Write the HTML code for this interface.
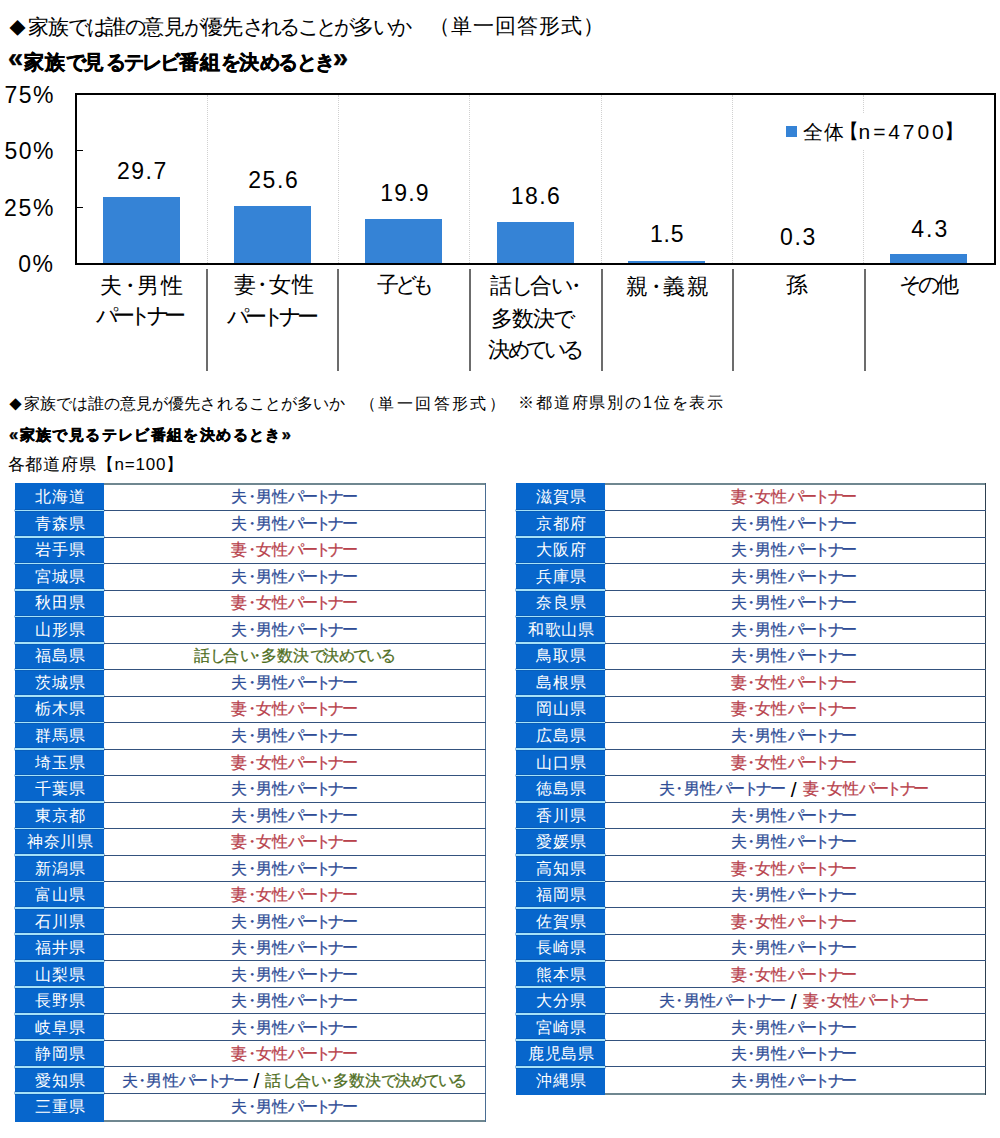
<!DOCTYPE html><html lang="ja"><head><meta charset="utf-8"><style>
*{margin:0;padding:0;box-sizing:border-box}
html,body{width:1000px;height:1138px;background:#fff;overflow:hidden}
body{position:relative;font-family:"Liberation Sans",sans-serif;color:#000;font-kerning:none}
.a{position:absolute;white-space:nowrap;line-height:1.2}
.k{letter-spacing:calc(var(--ls) + var(--kls))}
.d{margin:0 -0.25em}
.dm{font-size:0.8em;margin-right:0.15em;position:relative;top:0.05em}
.gm{font-size:1.35em;line-height:0;position:relative;top:-0.05em}
.gs{font-size:1.1em}
.bd{font-weight:bold;-webkit-text-stroke:0.45px #000}
.plot{position:absolute;left:75px;top:93px;width:921px;height:172px;border:2px solid #000;border-bottom:none}
.axis{position:absolute;left:75px;top:263px;width:921px;height:2px;background:#000}
.grid{position:absolute;top:95px;height:168px;width:0;border-left:1px dotted #d0d0d0}
.div{position:absolute;top:268.5px;height:102.5px;width:2px;background:#6c6c6c}
.bar{position:absolute;width:77px;background:#3583d6}
.tick{position:absolute;left:77px;width:6px;height:1px;background:#000}
.tbl{position:absolute;width:471px;font-size:16px}
.bcol{position:absolute;left:0;top:0;bottom:0;width:89px;background:#0766cc}
.tb{position:absolute;left:89px;right:0;top:0;height:2px;background:#6f8790}
.bb{position:absolute;left:89px;right:0;bottom:0;height:2px;background:#6f8790}
.rb{position:absolute;right:0;top:0;bottom:0;width:1.5px;background:#3e5f8a}
.pn{position:absolute;width:89px;height:26px;line-height:26px;text-align:center;color:#fff;white-space:nowrap}
.pv{position:absolute;width:380px;height:26px;line-height:26px;text-align:center;white-space:nowrap;-webkit-text-stroke:0.25px currentColor}
.pv .k{letter-spacing:-0.16em}
.sepb{position:absolute;left:0;width:89px;height:1.6px;background:#a6e2f8;box-shadow:0 0 0.6px 0.4px #0a54a8}
.sepw{position:absolute;left:89px;right:0;height:1px;background:#34527e}
.m{color:#2f4d96} .f{color:#b8424c} .t{color:#4f6e1e} .sl{-webkit-text-stroke:0;color:#000;margin:0 6px 0 7.5px;font-size:21px;line-height:0;position:relative;top:2.5px}
</style></head><body>
<div class="plot"></div>
<div class="grid" style="left:207px"></div>
<div class="grid" style="left:338px"></div>
<div class="grid" style="left:469px"></div>
<div class="grid" style="left:601px"></div>
<div class="grid" style="left:732px"></div>
<div class="grid" style="left:863px"></div>
<div class="tick" style="top:150px"></div><div class="tick" style="top:207px"></div>
<div class="bar" style="left:102.9px;top:196.8px;height:67.2px"></div>
<div class="bar" style="left:234.1px;top:206.1px;height:57.9px"></div>
<div class="bar" style="left:365.3px;top:219.0px;height:45.0px"></div>
<div class="bar" style="left:496.5px;top:222.0px;height:42.0px"></div>
<div class="bar" style="left:627.7px;top:260.8px;height:3.2px"></div>
<div class="bar" style="left:758.9px;top:263.5px;height:0.5px"></div>
<div class="bar" style="left:890.1px;top:254.4px;height:9.6px"></div>
<div class="axis"></div>
<div class="div" style="left:206px"></div>
<div class="div" style="left:337px"></div>
<div class="div" style="left:469px"></div>
<div class="div" style="left:601px"></div>
<div class="div" style="left:732px"></div>
<div class="div" style="left:864px"></div>
<div class="a lgbg" style="left:780px;top:113px;width:180px;height:35.5px;background:#fff"></div>
<div class="a lgsq" style="left:785.5px;top:125.5px;width:11.5px;height:11.5px;background:#3583d6"></div>
<div class="a tx" id="t1a" style="left:9.00px;top:13.50px;font-size:21px;--ls:-0.756px;--kls:-0.140em;letter-spacing:var(--ls)"><span class="dm">◆</span>家族<span class="k">では</span>誰<span class="k">の</span>意見<span class="k">が</span>優先<span class="k">されることが</span>多<span class="k">いか</span></div>
<div class="a tx" id="t1b" style="left:428.90px;top:13.40px;font-size:21px;--ls:1.070px;--kls:-0.140em;letter-spacing:var(--ls)">（単一回答形式）</div>
<div class="a tx bd" id="t2" style="left:8.00px;top:49.80px;font-size:20px;--ls:1.059px;--kls:-0.140em;letter-spacing:var(--ls)"><span class="gm">«</span>家族<span class="k">で</span>見<span class="k">るテレビ</span>番組<span class="k">を</span>決<span class="k">めるとき</span><span class="gm">»</span></div>
<div class="a tx" id="ax75" style="left:4.60px;top:81.50px;font-size:23px;--ls:1.400px;--kls:-0.140em;letter-spacing:var(--ls)">75%</div>
<div class="a tx" id="ax50" style="left:4.60px;top:138.00px;font-size:23px;--ls:1.400px;--kls:-0.140em;letter-spacing:var(--ls)">50%</div>
<div class="a tx" id="ax25" style="left:4.00px;top:194.90px;font-size:23px;--ls:1.760px;--kls:-0.140em;letter-spacing:var(--ls)">25%</div>
<div class="a tx" id="ax0" style="left:18.20px;top:251.10px;font-size:23px;--ls:1.580px;--kls:-0.140em;letter-spacing:var(--ls)">0%</div>
<div class="a tx" id="v0" style="left:117.00px;top:157.55px;font-size:23px;--ls:1.520px;--kls:-0.140em;letter-spacing:var(--ls)">29.7</div>
<div class="a tx" id="v1" style="left:248.20px;top:167.30px;font-size:23px;--ls:1.580px;--kls:-0.140em;letter-spacing:var(--ls)">25.6</div>
<div class="a tx" id="v2" style="left:380.20px;top:180.30px;font-size:23px;--ls:1.190px;--kls:-0.140em;letter-spacing:var(--ls)">19.9</div>
<div class="a tx" id="v3" style="left:510.80px;top:183.45px;font-size:23px;--ls:1.400px;--kls:-0.140em;letter-spacing:var(--ls)">18.6</div>
<div class="a tx" id="v4" style="left:650.00px;top:221.25px;font-size:23px;--ls:0.815px;--kls:-0.140em;letter-spacing:var(--ls)">1.5</div>
<div class="a tx" id="v5" style="left:780.00px;top:224.15px;font-size:23px;--ls:1.670px;--kls:-0.140em;letter-spacing:var(--ls)">0.3</div>
<div class="a tx" id="v6" style="left:911.20px;top:215.95px;font-size:23px;--ls:2.030px;--kls:-0.140em;letter-spacing:var(--ls)">4.3</div>
<div class="a tx" id="c1a" style="left:100.20px;top:273.10px;font-size:22px;--ls:1.800px;--kls:-0.140em;letter-spacing:var(--ls)">夫<span class="d">・</span>男性</div>
<div class="a tx" id="c1b" style="left:95.60px;top:303.20px;font-size:22px;--ls:-2.610px;--kls:-0.140em;letter-spacing:var(--ls)"><span class="k">パートナー</span></div>
<div class="a tx" id="c2a" style="left:234.00px;top:272.20px;font-size:22px;--ls:0.945px;--kls:-0.140em;letter-spacing:var(--ls)">妻<span class="d">・</span>女性</div>
<div class="a tx" id="c2b" style="left:227.40px;top:304.10px;font-size:22px;--ls:-2.340px;--kls:-0.140em;letter-spacing:var(--ls)"><span class="k">パートナー</span></div>
<div class="a tx" id="c3" style="left:376.80px;top:271.75px;font-size:22px;--ls:-3.330px;--kls:-0.140em;letter-spacing:var(--ls)">子<span class="k">ども</span></div>
<div class="a tx" id="c4a" style="left:490.00px;top:273.20px;font-size:22px;--ls:-0.900px;--kls:-0.140em;letter-spacing:var(--ls)">話<span class="k">し</span>合<span class="k">い</span><span class="d">・</span></div>
<div class="a tx" id="c4b" style="left:491.00px;top:306.10px;font-size:22px;--ls:-1.200px;--kls:-0.140em;letter-spacing:var(--ls)">多数決<span class="k">で</span></div>
<div class="a tx" id="c4c" style="left:488.00px;top:336.95px;font-size:22px;--ls:-2.025px;--kls:-0.140em;letter-spacing:var(--ls)">決<span class="k">めている</span></div>
<div class="a tx" id="c5" style="left:626.40px;top:273.50px;font-size:22px;--ls:1.740px;--kls:-0.140em;letter-spacing:var(--ls)">親<span class="d">・</span>義親</div>
<div class="a tx" id="c6" style="left:786.20px;top:272.20px;font-size:22px;--ls:0.000px;--kls:-0.140em;letter-spacing:var(--ls)">孫</div>
<div class="a tx" id="c7" style="left:899.40px;top:271.70px;font-size:22px;--ls:-0.900px;--kls:-0.140em;letter-spacing:var(--ls)"><span class="k">その</span>他</div>
<div class="a tx" id="lg1" style="left:803.00px;top:119.50px;font-size:20px;--ls:0.900px;--kls:-0.140em;letter-spacing:var(--ls)">全体</div>
<div class="a tx" id="lg2" style="left:838.60px;top:119.40px;font-size:20px;--ls:0.000px;--kls:-0.140em;letter-spacing:var(--ls)">【</div>
<div class="a tx" id="lg3" style="left:858.60px;top:118.50px;font-size:21px;--ls:2.882px;--kls:-0.140em;letter-spacing:var(--ls)">n=4700</div>
<div class="a tx" id="lg4" style="left:944.40px;top:119.40px;font-size:20px;--ls:0.000px;--kls:-0.140em;letter-spacing:var(--ls)">】</div>
<div class="a tx" id="s1a" style="left:9.00px;top:393.75px;font-size:16px;--ls:0.045px;--kls:0.000em;letter-spacing:var(--ls)"><span class="dm">◆</span>家族<span class="k">では</span>誰<span class="k">の</span>意見<span class="k">が</span>優先<span class="k">されることが</span>多<span class="k">いか</span></div>
<div class="a tx" id="s1b" style="left:360.00px;top:393.88px;font-size:16px;--ls:2.378px;--kls:-0.140em;letter-spacing:var(--ls)">（単一回答形式）</div>
<div class="a tx" id="s1c" style="left:518.00px;top:393.27px;font-size:16px;--ls:1.847px;--kls:0.000em;letter-spacing:var(--ls)">※都道府県別<span class="k">の</span>1位<span class="k">を</span>表示</div>
<div class="a tx bd" id="s2" style="left:9.00px;top:424.75px;font-size:15px;--ls:1.388px;--kls:0.000em;letter-spacing:var(--ls)"><span class="gs">«</span>家族<span class="k">で</span>見<span class="k">るテレビ</span>番組<span class="k">を</span>決<span class="k">めるとき</span><span class="gs">»</span></div>
<div class="a tx" id="s3" style="left:7.50px;top:455.00px;font-size:17px;--ls:0.819px;--kls:0.000em;letter-spacing:var(--ls)">各都道府県【n=100】</div>
<div class="tbl" style="left:15px;top:483px;height:638.76px;width:471px">
<div class="bcol"></div><div class="tb"></div><div class="bb"></div><div class="rb" style="background:#4a6d92"></div>
<div class="pn" id="Ln0" style="top:1.25px;left:1.0px;letter-spacing:0.9px">北海道</div><div class="pv" id="Lv0" style="top:1.25px;left:88.4px;letter-spacing:0.15px"><span class="m">夫<span class="d">・</span>男性<span class="k">パートナー</span></span></div>
<div class="pn" id="Ln1" style="top:27.78px;left:1.0px;letter-spacing:0.9px">青森県</div><div class="pv" id="Lv1" style="top:27.78px;left:88.4px;letter-spacing:0.15px"><span class="m">夫<span class="d">・</span>男性<span class="k">パートナー</span></span></div>
<div class="sepb" style="top:26.64px"></div><div class="sepw" style="top:27px"></div>
<div class="pn" id="Ln2" style="top:54.31px;left:1.0px;letter-spacing:0.9px">岩手県</div><div class="pv" id="Lv2" style="top:54.31px;left:88.4px;letter-spacing:0.15px"><span class="f">妻<span class="d">・</span>女性<span class="k">パートナー</span></span></div>
<div class="sepb" style="top:53.13px"></div><div class="sepw" style="top:54px"></div>
<div class="pn" id="Ln3" style="top:80.84px;left:1.0px;letter-spacing:0.9px">宮城県</div><div class="pv" id="Lv3" style="top:80.84px;left:88.4px;letter-spacing:0.15px"><span class="m">夫<span class="d">・</span>男性<span class="k">パートナー</span></span></div>
<div class="sepb" style="top:79.62px"></div><div class="sepw" style="top:80px"></div>
<div class="pn" id="Ln4" style="top:107.37px;left:1.0px;letter-spacing:0.9px">秋田県</div><div class="pv" id="Lv4" style="top:107.37px;left:88.4px;letter-spacing:0.15px"><span class="f">妻<span class="d">・</span>女性<span class="k">パートナー</span></span></div>
<div class="sepb" style="top:106.11px"></div><div class="sepw" style="top:107px"></div>
<div class="pn" id="Ln5" style="top:133.90px;left:1.0px;letter-spacing:0.9px">山形県</div><div class="pv" id="Lv5" style="top:133.90px;left:88.4px;letter-spacing:0.15px"><span class="m">夫<span class="d">・</span>男性<span class="k">パートナー</span></span></div>
<div class="sepb" style="top:132.60px"></div><div class="sepw" style="top:133px"></div>
<div class="pn" id="Ln6" style="top:160.43px;left:1.0px;letter-spacing:0.9px">福島県</div><div class="pv" id="Lv6" style="top:160.43px;left:88.4px;letter-spacing:0.15px"><span class="t">話<span class="k">し</span>合<span class="k">い</span><span class="d">・</span>多数決<span class="k">で</span>決<span class="k">めている</span></span></div>
<div class="sepb" style="top:159.09px"></div><div class="sepw" style="top:160px"></div>
<div class="pn" id="Ln7" style="top:186.96px;left:1.0px;letter-spacing:0.9px">茨城県</div><div class="pv" id="Lv7" style="top:186.96px;left:88.4px;letter-spacing:0.15px"><span class="m">夫<span class="d">・</span>男性<span class="k">パートナー</span></span></div>
<div class="sepb" style="top:185.58px"></div><div class="sepw" style="top:186px"></div>
<div class="pn" id="Ln8" style="top:213.49px;left:1.0px;letter-spacing:0.9px">栃木県</div><div class="pv" id="Lv8" style="top:213.49px;left:88.4px;letter-spacing:0.15px"><span class="f">妻<span class="d">・</span>女性<span class="k">パートナー</span></span></div>
<div class="sepb" style="top:212.07px"></div><div class="sepw" style="top:213px"></div>
<div class="pn" id="Ln9" style="top:240.02px;left:1.0px;letter-spacing:0.9px">群馬県</div><div class="pv" id="Lv9" style="top:240.02px;left:88.4px;letter-spacing:0.15px"><span class="m">夫<span class="d">・</span>男性<span class="k">パートナー</span></span></div>
<div class="sepb" style="top:238.56px"></div><div class="sepw" style="top:239px"></div>
<div class="pn" id="Ln10" style="top:266.55px;left:1.0px;letter-spacing:0.9px">埼玉県</div><div class="pv" id="Lv10" style="top:266.55px;left:88.4px;letter-spacing:0.15px"><span class="f">妻<span class="d">・</span>女性<span class="k">パートナー</span></span></div>
<div class="sepb" style="top:265.05px"></div><div class="sepw" style="top:266px"></div>
<div class="pn" id="Ln11" style="top:293.08px;left:1.0px;letter-spacing:0.9px">千葉県</div><div class="pv" id="Lv11" style="top:293.08px;left:88.4px;letter-spacing:0.15px"><span class="m">夫<span class="d">・</span>男性<span class="k">パートナー</span></span></div>
<div class="sepb" style="top:291.54px"></div><div class="sepw" style="top:292px"></div>
<div class="pn" id="Ln12" style="top:319.61px;left:1.0px;letter-spacing:0.9px">東京都</div><div class="pv" id="Lv12" style="top:319.61px;left:88.4px;letter-spacing:0.15px"><span class="m">夫<span class="d">・</span>男性<span class="k">パートナー</span></span></div>
<div class="sepb" style="top:318.03px"></div><div class="sepw" style="top:319px"></div>
<div class="pn" id="Ln13" style="top:346.14px;left:1.0px;letter-spacing:0.9px">神奈川県</div><div class="pv" id="Lv13" style="top:346.14px;left:88.4px;letter-spacing:0.15px"><span class="f">妻<span class="d">・</span>女性<span class="k">パートナー</span></span></div>
<div class="sepb" style="top:344.52px"></div><div class="sepw" style="top:345px"></div>
<div class="pn" id="Ln14" style="top:372.67px;left:1.0px;letter-spacing:0.9px">新潟県</div><div class="pv" id="Lv14" style="top:372.67px;left:88.4px;letter-spacing:0.15px"><span class="m">夫<span class="d">・</span>男性<span class="k">パートナー</span></span></div>
<div class="sepb" style="top:371.01px"></div><div class="sepw" style="top:372px"></div>
<div class="pn" id="Ln15" style="top:399.20px;left:1.0px;letter-spacing:0.9px">富山県</div><div class="pv" id="Lv15" style="top:399.20px;left:88.4px;letter-spacing:0.15px"><span class="f">妻<span class="d">・</span>女性<span class="k">パートナー</span></span></div>
<div class="sepb" style="top:397.50px"></div><div class="sepw" style="top:398px"></div>
<div class="pn" id="Ln16" style="top:425.73px;left:1.0px;letter-spacing:0.9px">石川県</div><div class="pv" id="Lv16" style="top:425.73px;left:88.4px;letter-spacing:0.15px"><span class="m">夫<span class="d">・</span>男性<span class="k">パートナー</span></span></div>
<div class="sepb" style="top:423.99px"></div><div class="sepw" style="top:424px"></div>
<div class="pn" id="Ln17" style="top:452.26px;left:1.0px;letter-spacing:0.9px">福井県</div><div class="pv" id="Lv17" style="top:452.26px;left:88.4px;letter-spacing:0.15px"><span class="m">夫<span class="d">・</span>男性<span class="k">パートナー</span></span></div>
<div class="sepb" style="top:450.48px"></div><div class="sepw" style="top:451px"></div>
<div class="pn" id="Ln18" style="top:478.79px;left:1.0px;letter-spacing:0.9px">山梨県</div><div class="pv" id="Lv18" style="top:478.79px;left:88.4px;letter-spacing:0.15px"><span class="m">夫<span class="d">・</span>男性<span class="k">パートナー</span></span></div>
<div class="sepb" style="top:476.97px"></div><div class="sepw" style="top:477px"></div>
<div class="pn" id="Ln19" style="top:505.32px;left:1.0px;letter-spacing:0.9px">長野県</div><div class="pv" id="Lv19" style="top:505.32px;left:88.4px;letter-spacing:0.15px"><span class="m">夫<span class="d">・</span>男性<span class="k">パートナー</span></span></div>
<div class="sepb" style="top:503.46px"></div><div class="sepw" style="top:504px"></div>
<div class="pn" id="Ln20" style="top:531.85px;left:1.0px;letter-spacing:0.9px">岐阜県</div><div class="pv" id="Lv20" style="top:531.85px;left:88.4px;letter-spacing:0.15px"><span class="m">夫<span class="d">・</span>男性<span class="k">パートナー</span></span></div>
<div class="sepb" style="top:529.95px"></div><div class="sepw" style="top:530px"></div>
<div class="pn" id="Ln21" style="top:558.38px;left:1.0px;letter-spacing:0.9px">静岡県</div><div class="pv" id="Lv21" style="top:558.38px;left:88.4px;letter-spacing:0.15px"><span class="f">妻<span class="d">・</span>女性<span class="k">パートナー</span></span></div>
<div class="sepb" style="top:556.44px"></div><div class="sepw" style="top:557px"></div>
<div class="pn" id="Ln22" style="top:584.91px;left:1.0px;letter-spacing:0.9px">愛知県</div><div class="pv" id="Lv22" style="top:584.91px;left:88.4px;letter-spacing:0.15px"><span class="m">夫<span class="d">・</span>男性<span class="k">パートナー</span></span><span class="sl">/</span><span class="t">話<span class="k">し</span>合<span class="k">い</span><span class="d">・</span>多数決<span class="k">で</span>決<span class="k">めている</span></span></div>
<div class="sepb" style="top:582.93px"></div><div class="sepw" style="top:583px"></div>
<div class="pn" id="Ln23" style="top:611.44px;left:1.0px;letter-spacing:0.9px">三重県</div><div class="pv" id="Lv23" style="top:611.44px;left:88.4px;letter-spacing:0.15px"><span class="m">夫<span class="d">・</span>男性<span class="k">パートナー</span></span></div>
<div class="sepb" style="top:609.42px"></div><div class="sepw" style="top:610px"></div>
</div>
<div class="tbl" style="left:516px;top:483px;height:612.27px;width:470.3px">
<div class="bcol"></div><div class="tb"></div><div class="bb"></div><div class="rb" style="background:#2e4050"></div>
<div class="pn" id="Rn0" style="top:1.25px;left:1.0px;letter-spacing:0.9px">滋賀県</div><div class="pv" id="Rv0" style="top:1.25px;left:86.9px;letter-spacing:0.15px"><span class="f">妻<span class="d">・</span>女性<span class="k">パートナー</span></span></div>
<div class="pn" id="Rn1" style="top:27.78px;left:1.0px;letter-spacing:0.9px">京都府</div><div class="pv" id="Rv1" style="top:27.78px;left:86.9px;letter-spacing:0.15px"><span class="m">夫<span class="d">・</span>男性<span class="k">パートナー</span></span></div>
<div class="sepb" style="top:26.64px"></div><div class="sepw" style="top:27px"></div>
<div class="pn" id="Rn2" style="top:54.31px;left:1.0px;letter-spacing:0.9px">大阪府</div><div class="pv" id="Rv2" style="top:54.31px;left:86.9px;letter-spacing:0.15px"><span class="m">夫<span class="d">・</span>男性<span class="k">パートナー</span></span></div>
<div class="sepb" style="top:53.13px"></div><div class="sepw" style="top:54px"></div>
<div class="pn" id="Rn3" style="top:80.84px;left:1.0px;letter-spacing:0.9px">兵庫県</div><div class="pv" id="Rv3" style="top:80.84px;left:86.9px;letter-spacing:0.15px"><span class="m">夫<span class="d">・</span>男性<span class="k">パートナー</span></span></div>
<div class="sepb" style="top:79.62px"></div><div class="sepw" style="top:80px"></div>
<div class="pn" id="Rn4" style="top:107.37px;left:1.0px;letter-spacing:0.9px">奈良県</div><div class="pv" id="Rv4" style="top:107.37px;left:86.9px;letter-spacing:0.15px"><span class="m">夫<span class="d">・</span>男性<span class="k">パートナー</span></span></div>
<div class="sepb" style="top:106.11px"></div><div class="sepw" style="top:107px"></div>
<div class="pn" id="Rn5" style="top:133.90px;left:1.0px;letter-spacing:0.9px">和歌山県</div><div class="pv" id="Rv5" style="top:133.90px;left:86.9px;letter-spacing:0.15px"><span class="m">夫<span class="d">・</span>男性<span class="k">パートナー</span></span></div>
<div class="sepb" style="top:132.60px"></div><div class="sepw" style="top:133px"></div>
<div class="pn" id="Rn6" style="top:160.43px;left:1.0px;letter-spacing:0.9px">鳥取県</div><div class="pv" id="Rv6" style="top:160.43px;left:86.9px;letter-spacing:0.15px"><span class="m">夫<span class="d">・</span>男性<span class="k">パートナー</span></span></div>
<div class="sepb" style="top:159.09px"></div><div class="sepw" style="top:160px"></div>
<div class="pn" id="Rn7" style="top:186.96px;left:1.0px;letter-spacing:0.9px">島根県</div><div class="pv" id="Rv7" style="top:186.96px;left:86.9px;letter-spacing:0.15px"><span class="f">妻<span class="d">・</span>女性<span class="k">パートナー</span></span></div>
<div class="sepb" style="top:185.58px"></div><div class="sepw" style="top:186px"></div>
<div class="pn" id="Rn8" style="top:213.49px;left:1.0px;letter-spacing:0.9px">岡山県</div><div class="pv" id="Rv8" style="top:213.49px;left:86.9px;letter-spacing:0.15px"><span class="f">妻<span class="d">・</span>女性<span class="k">パートナー</span></span></div>
<div class="sepb" style="top:212.07px"></div><div class="sepw" style="top:213px"></div>
<div class="pn" id="Rn9" style="top:240.02px;left:1.0px;letter-spacing:0.9px">広島県</div><div class="pv" id="Rv9" style="top:240.02px;left:86.9px;letter-spacing:0.15px"><span class="m">夫<span class="d">・</span>男性<span class="k">パートナー</span></span></div>
<div class="sepb" style="top:238.56px"></div><div class="sepw" style="top:239px"></div>
<div class="pn" id="Rn10" style="top:266.55px;left:1.0px;letter-spacing:0.9px">山口県</div><div class="pv" id="Rv10" style="top:266.55px;left:86.9px;letter-spacing:0.15px"><span class="f">妻<span class="d">・</span>女性<span class="k">パートナー</span></span></div>
<div class="sepb" style="top:265.05px"></div><div class="sepw" style="top:266px"></div>
<div class="pn" id="Rn11" style="top:293.08px;left:1.0px;letter-spacing:0.9px">徳島県</div><div class="pv" id="Rv11" style="top:293.08px;left:86.9px;letter-spacing:0.15px"><span class="m">夫<span class="d">・</span>男性<span class="k">パートナー</span></span><span class="sl">/</span><span class="f">妻<span class="d">・</span>女性<span class="k">パートナー</span></span></div>
<div class="sepb" style="top:291.54px"></div><div class="sepw" style="top:292px"></div>
<div class="pn" id="Rn12" style="top:319.61px;left:1.0px;letter-spacing:0.9px">香川県</div><div class="pv" id="Rv12" style="top:319.61px;left:86.9px;letter-spacing:0.15px"><span class="m">夫<span class="d">・</span>男性<span class="k">パートナー</span></span></div>
<div class="sepb" style="top:318.03px"></div><div class="sepw" style="top:319px"></div>
<div class="pn" id="Rn13" style="top:346.14px;left:1.0px;letter-spacing:0.9px">愛媛県</div><div class="pv" id="Rv13" style="top:346.14px;left:86.9px;letter-spacing:0.15px"><span class="m">夫<span class="d">・</span>男性<span class="k">パートナー</span></span></div>
<div class="sepb" style="top:344.52px"></div><div class="sepw" style="top:345px"></div>
<div class="pn" id="Rn14" style="top:372.67px;left:1.0px;letter-spacing:0.9px">高知県</div><div class="pv" id="Rv14" style="top:372.67px;left:86.9px;letter-spacing:0.15px"><span class="f">妻<span class="d">・</span>女性<span class="k">パートナー</span></span></div>
<div class="sepb" style="top:371.01px"></div><div class="sepw" style="top:372px"></div>
<div class="pn" id="Rn15" style="top:399.20px;left:1.0px;letter-spacing:0.9px">福岡県</div><div class="pv" id="Rv15" style="top:399.20px;left:86.9px;letter-spacing:0.15px"><span class="m">夫<span class="d">・</span>男性<span class="k">パートナー</span></span></div>
<div class="sepb" style="top:397.50px"></div><div class="sepw" style="top:398px"></div>
<div class="pn" id="Rn16" style="top:425.73px;left:1.0px;letter-spacing:0.9px">佐賀県</div><div class="pv" id="Rv16" style="top:425.73px;left:86.9px;letter-spacing:0.15px"><span class="f">妻<span class="d">・</span>女性<span class="k">パートナー</span></span></div>
<div class="sepb" style="top:423.99px"></div><div class="sepw" style="top:424px"></div>
<div class="pn" id="Rn17" style="top:452.26px;left:1.0px;letter-spacing:0.9px">長崎県</div><div class="pv" id="Rv17" style="top:452.26px;left:86.9px;letter-spacing:0.15px"><span class="m">夫<span class="d">・</span>男性<span class="k">パートナー</span></span></div>
<div class="sepb" style="top:450.48px"></div><div class="sepw" style="top:451px"></div>
<div class="pn" id="Rn18" style="top:478.79px;left:1.0px;letter-spacing:0.9px">熊本県</div><div class="pv" id="Rv18" style="top:478.79px;left:86.9px;letter-spacing:0.15px"><span class="f">妻<span class="d">・</span>女性<span class="k">パートナー</span></span></div>
<div class="sepb" style="top:476.97px"></div><div class="sepw" style="top:477px"></div>
<div class="pn" id="Rn19" style="top:505.32px;left:1.0px;letter-spacing:0.9px">大分県</div><div class="pv" id="Rv19" style="top:505.32px;left:86.9px;letter-spacing:0.15px"><span class="m">夫<span class="d">・</span>男性<span class="k">パートナー</span></span><span class="sl">/</span><span class="f">妻<span class="d">・</span>女性<span class="k">パートナー</span></span></div>
<div class="sepb" style="top:503.46px"></div><div class="sepw" style="top:504px"></div>
<div class="pn" id="Rn20" style="top:531.85px;left:1.0px;letter-spacing:0.9px">宮崎県</div><div class="pv" id="Rv20" style="top:531.85px;left:86.9px;letter-spacing:0.15px"><span class="m">夫<span class="d">・</span>男性<span class="k">パートナー</span></span></div>
<div class="sepb" style="top:529.95px"></div><div class="sepw" style="top:530px"></div>
<div class="pn" id="Rn21" style="top:558.38px;left:1.0px;letter-spacing:0.9px">鹿児島県</div><div class="pv" id="Rv21" style="top:558.38px;left:86.9px;letter-spacing:0.15px"><span class="m">夫<span class="d">・</span>男性<span class="k">パートナー</span></span></div>
<div class="sepb" style="top:556.44px"></div><div class="sepw" style="top:557px"></div>
<div class="pn" id="Rn22" style="top:584.91px;left:1.0px;letter-spacing:0.9px">沖縄県</div><div class="pv" id="Rv22" style="top:584.91px;left:86.9px;letter-spacing:0.15px"><span class="m">夫<span class="d">・</span>男性<span class="k">パートナー</span></span></div>
<div class="sepb" style="top:582.93px"></div><div class="sepw" style="top:583px"></div>
</div>
</body></html>
